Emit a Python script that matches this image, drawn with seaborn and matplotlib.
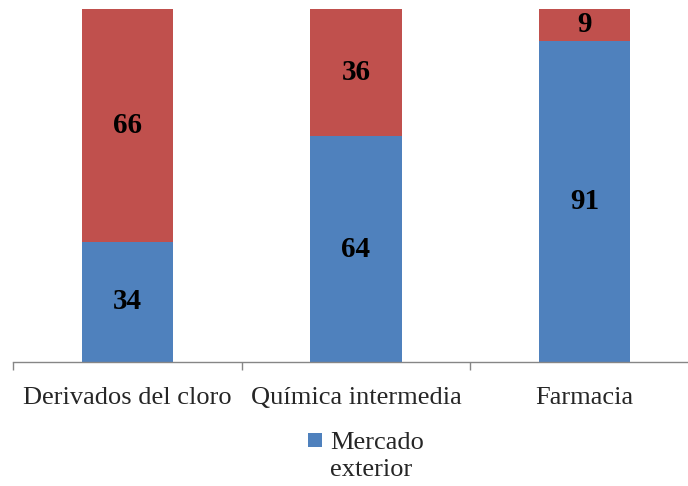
import matplotlib
matplotlib.use("Agg")
import matplotlib.pyplot as plt
import seaborn as sns
import pandas as pd
from matplotlib.patches import Patch, Rectangle
from matplotlib.legend_handler import HandlerPatch

categories = ["Derivados del cloro", "Química intermedia", "Farmacia"]
exterior = [34, 64, 91]
interior = [66, 36, 9]

sns.set_theme(style="white")
plt.rcParams["font.family"] = ["Liberation Serif", "DejaVu Serif"]

blue = "#4F81BD"
red = "#C0504D"

df = pd.DataFrame({"cat": categories, "ext": exterior, "int": interior})
df["total"] = df["ext"] + df["int"]

W, H = 688, 486
fig = plt.figure(figsize=(W / 100, H / 100), dpi=100)
left_px, right_px, top_px, base_px = 13.25, 698.75, 9, 362
ax = fig.add_axes([left_px / W, (H - base_px) / H, (right_px - left_px) / W, (base_px - top_px) / H])

sns.barplot(data=df, x="cat", y="total", color=red, saturation=1, width=0.4, ax=ax, linewidth=0)
sns.barplot(data=df, x="cat", y="ext", color=blue, saturation=1, width=0.4, ax=ax, linewidth=0)

ax.set_xlim(-0.5, 2.5)
ax.set_ylim(0, 100)
ax.set_xlabel("")
ax.set_ylabel("")
ax.set_yticks([])
for s in ["top", "right", "left"]:
    ax.spines[s].set_visible(False)
ax.spines["bottom"].set_color("#868686")
ax.spines["bottom"].set_linewidth(1)

ax.set_xticks([-0.5, 0.5, 1.5, 2.5], minor=False)
ax.set_xticklabels([])
ax.tick_params(axis="x", which="major", direction="out", length=6, color="#868686", width=1, bottom=True)
ax.set_xticks([0, 1, 2], minor=True)
ax.set_xticklabels(categories, minor=True, fontsize=19)
ax.tick_params(axis="x", which="minor", length=0, pad=18)

for i, (e, n) in enumerate(zip(exterior, interior)):
    ax.text(i, e / 2, str(e), ha="center", va="center", fontsize=21, fontweight="bold", color="black")
    ax.text(i, e + n / 2, str(n), ha="center", va="center", fontsize=21, fontweight="bold", color="black")


def top_square(legend, orig_handle, xdescent, ydescent, width, height, fontsize):
    sq = 0.53 * fontsize
    return Rectangle((-xdescent, -ydescent + height - sq + 0.2 * fontsize), sq, sq)


handle = Patch(facecolor=blue, edgecolor="none")
leg = fig.legend([handle], ["Mercado\nexterior"], loc="center", bbox_to_anchor=(366 / W, (H - 456.5) / H),
                 frameon=False, fontsize=19, handlelength=0.53, handleheight=1.75, handletextpad=0.3,
                 handler_map={Patch: HandlerPatch(patch_func=top_square)})
for t in leg.get_texts():
    t.set_linespacing(1.33)

fig.savefig("out.png", dpi=100)
